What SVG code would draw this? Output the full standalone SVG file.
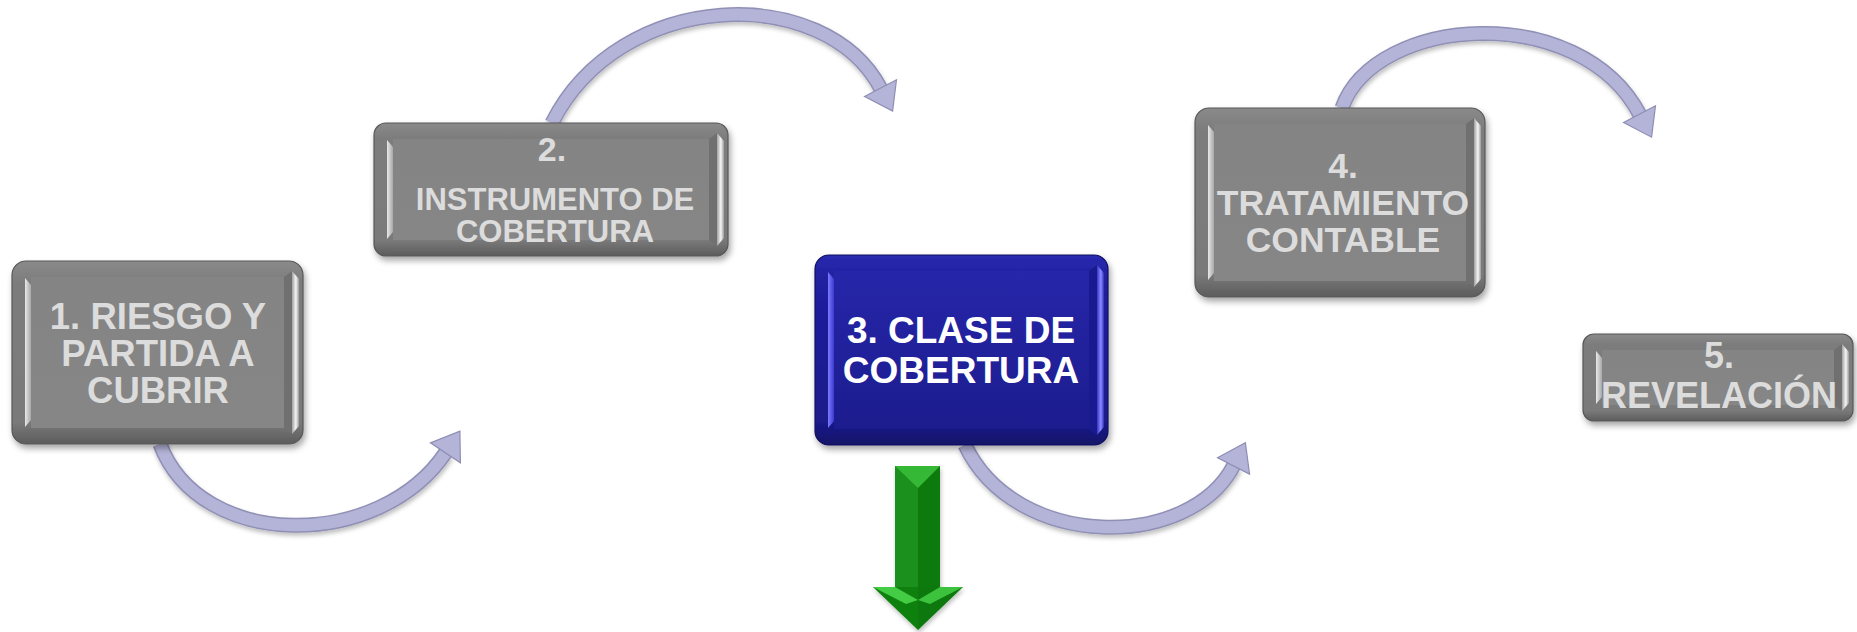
<svg xmlns="http://www.w3.org/2000/svg" width="1857" height="632" viewBox="0 0 1857 632">
  <defs>
    <filter id="sh" x="-10%" y="-10%" width="120%" height="130%">
      <feDropShadow dx="2" dy="4" stdDeviation="3" flood-color="#000" flood-opacity="0.35"/>
    </filter>
    <filter id="shc" x="-10%" y="-10%" width="120%" height="130%">
      <feDropShadow dx="1" dy="3" stdDeviation="2" flood-color="#000" flood-opacity="0.25"/>
    </filter>
    <linearGradient id="gRim" x1="0" y1="0" x2="0" y2="1">
      <stop offset="0" stop-color="#8a8a8a"/>
      <stop offset="0.12" stop-color="#7c7c7c"/>
      <stop offset="0.88" stop-color="#7a7a7a"/>
      <stop offset="1" stop-color="#5c5c5c"/>
    </linearGradient>
    <linearGradient id="gFace" x1="0" y1="0" x2="0" y2="1">
      <stop offset="0" stop-color="#848484"/>
      <stop offset="1" stop-color="#868686"/>
    </linearGradient>
    <linearGradient id="gL" x1="0" y1="0" x2="1" y2="0">
      <stop offset="0" stop-color="#e8e8e8"/>
      <stop offset="1" stop-color="#a8a8a8"/>
    </linearGradient>
    <linearGradient id="gR" x1="0" y1="0" x2="1" y2="0">
      <stop offset="0" stop-color="#a0a0a0"/>
      <stop offset="0.55" stop-color="#f6f6f6"/>
      <stop offset="1" stop-color="#9a9a9a"/>
    </linearGradient>
    <linearGradient id="bRim" x1="0" y1="0" x2="0" y2="1">
      <stop offset="0" stop-color="#2a2ab0"/>
      <stop offset="0.12" stop-color="#2020a0"/>
      <stop offset="0.88" stop-color="#1a1a8a"/>
      <stop offset="1" stop-color="#121268"/>
    </linearGradient>
    <linearGradient id="bFace" x1="0" y1="0" x2="0" y2="1">
      <stop offset="0" stop-color="#2626aa"/>
      <stop offset="1" stop-color="#1c1c8e"/>
    </linearGradient>
    <linearGradient id="bL" x1="0" y1="0" x2="1" y2="0">
      <stop offset="0" stop-color="#7b7bff"/>
      <stop offset="1" stop-color="#3a3ad0"/>
    </linearGradient>
    <linearGradient id="bR" x1="0" y1="0" x2="1" y2="0">
      <stop offset="0" stop-color="#3434c8"/>
      <stop offset="0.55" stop-color="#8c8cff"/>
      <stop offset="1" stop-color="#3030b8"/>
    </linearGradient>
    <marker id="ah" markerUnits="userSpaceOnUse" viewBox="0 -20 30 40" markerWidth="30" markerHeight="40" refX="1" refY="0" orient="auto" overflow="visible">
      <path d="M0,-18 L26,0 L0,18 Z" fill="#b4b4d8" stroke="#8e8eb4" stroke-width="1.2" stroke-linejoin="miter"/>
    </marker>
    <style>
      .rim{fill:url(#gRim);stroke:#585858;stroke-width:1.2;filter:url(#sh)}
      .face{fill:url(#gFace)}
      .lhl{fill:url(#gL)}
      .rdk{fill:#707070}
      .rhl{fill:url(#gR)}
      .blue .rim{fill:url(#bRim);stroke:#101060}
      .blue .face{fill:url(#bFace)}
      .blue .lhl{fill:url(#bL)}
      .blue .rdk{fill:#1a1a90}
      .blue .rhl{fill:url(#bR)}
      .lbl{font-family:"Liberation Sans",Arial,Helvetica,sans-serif;font-weight:bold;fill:#dcdcdc;text-anchor:middle}
      .blue .lbl{fill:#ffffff}
      .cOut{fill:none;stroke:#9090b6;stroke-width:15;filter:url(#shc)}
      .cIn{fill:none;stroke:#b4b4d8;stroke-width:12;marker-end:url(#ah)}
    </style>
  </defs>

  <rect width="1857" height="632" fill="#ffffff"/>

  <g id="connectors">
    <path class="cOut" d="M160,444 C200,551 380,551 446,452"/>
    <path class="cIn" d="M160,444 C200,551 380,551 446,452"/>
    <path class="cOut" d="M552,123 C620,-12 825,-18 881,89"/>
    <path class="cIn" d="M552,123 C620,-12 825,-18 881,89"/>
    <path class="cOut" d="M965,445 C1015,551 1190,551 1234,465"/>
    <path class="cIn" d="M965,445 C1015,551 1190,551 1234,465"/>
    <path class="cOut" d="M1342,108 C1375,15 1580,0 1640,115"/>
    <path class="cIn" d="M1342,108 C1375,15 1580,0 1640,115"/>
    <g id="down-arrow" filter="url(#shc)">
      <polygon points="895,466 918,466 918,587 895,587" fill="#1c901c"/>
      <polygon points="918,466 940,466 940,587 918,587" fill="#0a7a0a"/>
      <polygon points="895,466 940,466 918,488" fill="#36b836"/>
      <polygon points="873,587 918,587 918,630" fill="#0e800e"/>
      <polygon points="918,587 963,587 918,630" fill="#0a780a"/>
      <polygon points="873,587 895,587 918,600 906,604" fill="#44cc44"/>
      <polygon points="963,587 940,587 918,600 930,604" fill="#3cc23c"/>
    </g>
  </g>

  <g id="node1">
    <rect class="rim" x="12" y="261" width="291" height="183" rx="14"/>
    <rect class="face" x="31" y="277" width="253" height="151"/>
    <polygon class="lhl" points="25,278 31,285 31,420 25,427"/>
    <polygon class="rdk" points="284,277 292,271 292,434 284,428"/>
    <polygon class="rhl" points="292,271 299,279 299,426 292,434"/>
    <text class="lbl" font-size="36.5" x="158" y="329">1. RIESGO Y</text>
    <text class="lbl" font-size="36.5" x="158" y="366">PARTIDA A</text>
    <text class="lbl" font-size="36.5" x="158" y="403">CUBRIR</text>
  </g>

  <g id="node2">
    <rect class="rim" x="374" y="123" width="354" height="133" rx="12"/>
    <rect class="face" x="393" y="139" width="316" height="101"/>
    <polygon class="lhl" points="387,140 393,147 393,232 387,239"/>
    <polygon class="rdk" points="709,139 717,133 717,246 709,240"/>
    <polygon class="rhl" points="717,133 724,141 724,238 717,246"/>
    <text class="lbl" font-size="34" x="552" y="161">2.</text>
    <text class="lbl" font-size="31" x="555" y="210">INSTRUMENTO DE</text>
    <text class="lbl" font-size="31" x="555" y="242">COBERTURA</text>
  </g>

  <g id="node3" class="blue">
    <rect class="rim" x="815" y="255" width="293" height="190" rx="14"/>
    <rect class="face" x="834" y="271" width="255" height="158"/>
    <polygon class="lhl" points="828,272 834,279 834,421 828,428"/>
    <polygon class="rdk" points="1089,271 1097,265 1097,435 1089,429"/>
    <polygon class="rhl" points="1097,265 1104,273 1104,427 1097,435"/>
    <text class="lbl" font-size="37" x="961" y="343">3. CLASE DE</text>
    <text class="lbl" font-size="37" x="961" y="383">COBERTURA</text>
  </g>

  <g id="node4">
    <rect class="rim" x="1195" y="108" width="290" height="189" rx="14"/>
    <rect class="face" x="1214" y="124" width="252" height="157"/>
    <polygon class="lhl" points="1208,125 1214,132 1214,273 1208,280"/>
    <polygon class="rdk" points="1466,124 1474,118 1474,287 1466,281"/>
    <polygon class="rhl" points="1474,118 1481,126 1481,279 1474,287"/>
    <text class="lbl" font-size="35.5" x="1343" y="178">4.</text>
    <text class="lbl" font-size="35.5" x="1343" y="215">TRATAMIENTO</text>
    <text class="lbl" font-size="35.5" x="1343" y="252">CONTABLE</text>
  </g>

  <g id="node5">
    <rect class="rim" x="1583" y="334" width="270" height="87" rx="11"/>
    <rect class="face" x="1602" y="350" width="232" height="55"/>
    <polygon class="lhl" points="1596,351 1602,358 1602,397 1596,404"/>
    <polygon class="rdk" points="1834,350 1842,344 1842,411 1834,405"/>
    <polygon class="rhl" points="1842,344 1849,352 1849,403 1842,411"/>
    <text class="lbl" font-size="36" x="1719" y="368">5.</text>
    <text class="lbl" font-size="36" x="1719" y="408">REVELACIÓN</text>
  </g>
</svg>
